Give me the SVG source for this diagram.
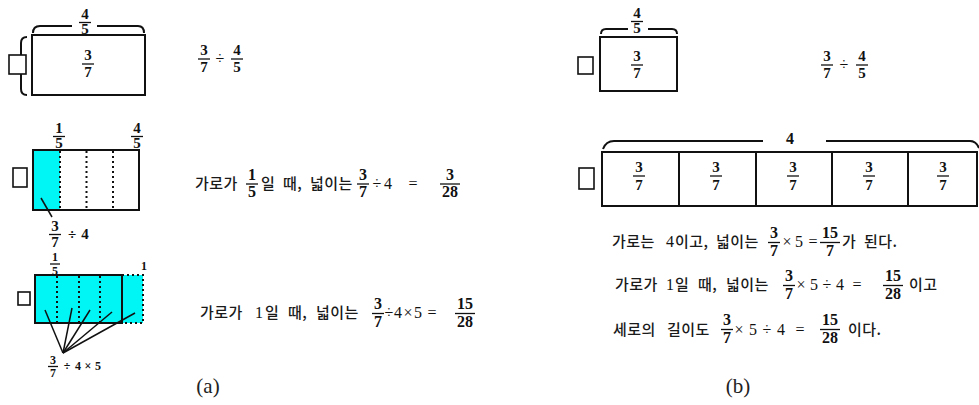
<svg xmlns="http://www.w3.org/2000/svg" width="979" height="405" viewBox="0 0 979 405">
<style>
.k{font-family:"Noto Sans CJK KR","Noto Sans",sans-serif;font-size:15px;font-weight:500;fill:#1a1a1a;letter-spacing:0.5px}
.f{font-family:"Liberation Serif",serif;font-weight:bold;font-size:15px;text-anchor:middle;fill:#111}
.fs{font-family:"Liberation Serif",serif;font-weight:bold;font-size:12px;text-anchor:middle;fill:#111}
.m{font-family:"Liberation Serif",serif;font-size:16px;text-anchor:middle;fill:#111}
.fm{font-family:"Liberation Serif",serif;font-weight:bold;font-size:16px;text-anchor:middle;fill:#111}
.bar{stroke:#111;stroke-width:1.3}
.box{fill:#fff;stroke:#111;stroke-width:2}
.cy{fill:#00f5f5;stroke:none}
.sq{fill:#fff;stroke:#111;stroke-width:1.6}
.br{fill:none;stroke:#111;stroke-width:2}
.dot{fill:none;stroke:#111;stroke-width:2;stroke-dasharray:2 3}
.ln{stroke:#111;stroke-width:1.5}
.lbl{font-family:"Liberation Serif",serif;font-size:21px;text-anchor:middle;fill:#222}
</style>
<rect width="979" height="405" fill="#fff"/>

<!-- Panel (a) row 1 -->
<g id="a1-diagram">
  <path class="br" d="M33,33 Q33,26 40,26 L72,26 M97,26 L138,26 Q144,26 144,33"/>
  <text class="f" x="85" y="19">4</text>
  <line class="bar" x1="79" y1="22.5" x2="91" y2="22.5"/>
  <text class="f" x="85" y="34">5</text>
  <path class="br" d="M27,37 Q21,37 21,43 L21,89 Q21,95 27,95"/>
  <rect class="box" x="32" y="35" width="113" height="60"/>
  <rect class="sq" x="9" y="55" width="17" height="19"/>
  <text class="f" x="88" y="60">3</text>
  <line class="bar" x1="82" y1="64" x2="94" y2="64"/>
  <text class="f" x="88" y="77">7</text>
</g>
<g id="a1-expr">
  <text class="f" x="204" y="55">3</text>
  <line class="bar" x1="198" y1="59" x2="210" y2="59"/>
  <text class="f" x="204" y="72">7</text>
  <text class="m" x="220" y="64">÷</text>
  <text class="f" x="237" y="55">4</text>
  <line class="bar" x1="231" y1="59" x2="243" y2="59"/>
  <text class="f" x="237" y="72">5</text>
</g>

<!-- Panel (a) row 2 -->
<g id="a2-diagram">
  <text class="f" x="59" y="133">1</text>
  <line class="bar" x1="53" y1="136.5" x2="65" y2="136.5"/>
  <text class="f" x="59" y="148">5</text>
  <text class="f" x="137" y="133">4</text>
  <line class="bar" x1="131" y1="136.5" x2="143" y2="136.5"/>
  <text class="f" x="137" y="148">5</text>
  <rect class="box" x="33" y="150" width="106" height="60"/>
  <rect class="cy" x="34" y="151" width="26" height="58"/>
  <line class="dot" x1="60" y1="151" x2="60" y2="209"/>
  <line class="dot" x1="86.5" y1="151" x2="86.5" y2="209"/>
  <line class="dot" x1="113" y1="151" x2="113" y2="209"/>
  <rect class="sq" x="13" y="168" width="14" height="19"/>
</g>
<g id="a2-label">
  <text class="f" x="55" y="231">3</text>
  <line class="bar" x1="49" y1="234.5" x2="61" y2="234.5"/>
  <text class="f" x="55" y="247">7</text>
  <text class="f" x="72" y="239">÷</text>
  <text class="f" x="85" y="239">4</text>
</g>
<g id="a2-text">
  <text class="k" x="195" y="189">가로가</text>
  <text class="fm" x="252" y="180">1</text>
  <line class="bar" x1="246" y1="184" x2="258" y2="184"/>
  <text class="fm" x="252" y="197">5</text>
  <text class="k" x="261" y="189">일</text>
  <text class="k" x="283" y="189">때,</text>
  <text class="k" x="310" y="189">넓이는</text>
  <text class="fm" x="363" y="180">3</text>
  <line class="bar" x1="357" y1="184" x2="369" y2="184"/>
  <text class="fm" x="363" y="197">7</text>
  <text class="m" x="377" y="189">÷</text>
  <text class="m" x="388" y="189">4</text>
  <text class="m" x="413" y="189">=</text>
  <text class="fm" x="450" y="180">3</text>
  <line class="bar" x1="440" y1="184" x2="460" y2="184"/>
  <text class="fm" x="450" y="197">28</text>
</g>

<!-- Panel (a) row 3 -->
<g id="a3-diagram">
  <text class="fs" x="55" y="261">1</text>
  <line class="bar" x1="50" y1="264" x2="60" y2="264"/>
  <text class="fs" x="55" y="275">5</text>
  <text class="fs" x="144" y="270">1</text>
  <rect class="cy" x="35" y="275" width="108" height="48"/>
  <path class="dot" d="M122,275 L143,275 L143,323 L122,323"/>
  <rect x="35" y="275" width="87" height="48" fill="none" stroke="#111" stroke-width="2"/>
  <line class="dot" x1="57" y1="276" x2="57" y2="322"/>
  <line class="dot" x1="79" y1="276" x2="79" y2="322"/>
  <line class="dot" x1="100" y1="276" x2="100" y2="322"/>
  <rect class="sq" x="18" y="292" width="12" height="13"/>
</g>
<g id="a3-label">
  <text class="fs" x="53" y="364">3</text>
  <line class="bar" x1="48" y1="366.5" x2="58" y2="366.5"/>
  <text class="fs" x="53" y="377">7</text>
  <text class="fs" x="67" y="370">÷</text>
  <text class="fs" x="78" y="370">4</text>
  <text class="fs" x="88" y="370">×</text>
  <text class="fs" x="98" y="370">5</text>
</g>
<g id="a3-text">
  <text class="k" x="200" y="318">가로가</text>
  <text class="m" x="259" y="318">1</text>
  <text class="k" x="265" y="318">일</text>
  <text class="k" x="288" y="318">때,</text>
  <text class="k" x="316" y="318">넓이는</text>
  <text class="fm" x="378" y="309">3</text>
  <line class="bar" x1="372" y1="313.5" x2="384" y2="313.5"/>
  <text class="fm" x="378" y="327">7</text>
  <text class="m" x="389" y="318">÷</text>
  <text class="m" x="398" y="318">4</text>
  <text class="m" x="408" y="318">×</text>
  <text class="m" x="418" y="318">5</text>
  <text class="m" x="432" y="318">=</text>
  <text class="fm" x="465" y="309">15</text>
  <line class="bar" x1="455" y1="313.5" x2="475" y2="313.5"/>
  <text class="fm" x="465" y="327">28</text>
</g>

<!-- Panel (b) row 1 -->
<g id="b1-diagram">
  <path class="br" d="M601,34 Q601,29 606,29 L628,29 M648,29 L672,29 Q677,29 677,34"/>
  <text class="f" x="637" y="18">4</text>
  <line class="bar" x1="631" y1="21.5" x2="643" y2="21.5"/>
  <text class="f" x="637" y="33">5</text>
  <rect class="box" x="600" y="37" width="77" height="54" stroke-width="2.5"/>
  <rect class="sq" x="578" y="57" width="15" height="17"/>
  <text class="f" x="637" y="61">3</text>
  <line class="bar" x1="631" y1="65" x2="643" y2="65"/>
  <text class="f" x="637" y="78">7</text>
</g>
<g id="b1-expr">
  <text class="f" x="827" y="61">3</text>
  <line class="bar" x1="821" y1="65" x2="833" y2="65"/>
  <text class="f" x="827" y="78">7</text>
  <text class="m" x="844" y="70">÷</text>
  <text class="f" x="862" y="61">4</text>
  <line class="bar" x1="856" y1="65" x2="868" y2="65"/>
  <text class="f" x="862" y="78">5</text>
</g>

<!-- Panel (b) row 2 -->
<g id="b2-diagram">
  <path class="br" d="M603,149 Q606,141 614,141 L763,141 M826,141 L970,141 Q976,141 979,148"/>
  <text class="fm" x="790" y="144">4</text>
  <rect class="box" x="602" y="152" width="375" height="54" stroke-width="2.5"/>
  <line class="br" x1="679" y1="152" x2="679" y2="206"/>
  <line class="br" x1="756" y1="152" x2="756" y2="206"/>
  <line class="br" x1="832" y1="152" x2="832" y2="206"/>
  <line class="br" x1="908" y1="152" x2="908" y2="206"/>
  <rect class="sq" x="579" y="168" width="15" height="21"/>
  <text class="f" x="639" y="172">3</text><line class="bar" x1="633" y1="176" x2="645" y2="176"/><text class="f" x="639" y="190">7</text>
  <text class="f" x="716" y="172">3</text><line class="bar" x1="710" y1="176" x2="722" y2="176"/><text class="f" x="716" y="190">7</text>
  <text class="f" x="793" y="172">3</text><line class="bar" x1="787" y1="176" x2="799" y2="176"/><text class="f" x="793" y="190">7</text>
  <text class="f" x="869" y="172">3</text><line class="bar" x1="863" y1="176" x2="875" y2="176"/><text class="f" x="869" y="190">7</text>
  <text class="f" x="943" y="172">3</text><line class="bar" x1="937" y1="176" x2="949" y2="176"/><text class="f" x="943" y="190">7</text>
</g>

<!-- Panel (b) text lines -->
<g id="b-line1">
  <text class="k" x="612" y="247">가로는</text>
  <text class="m" x="670" y="247">4</text>
  <text class="k" x="675" y="247">이고,</text>
  <text class="k" x="716" y="247">넓이는</text>
  <text class="fm" x="774" y="238">3</text>
  <line class="bar" x1="768" y1="242.5" x2="780" y2="242.5"/>
  <text class="fm" x="774" y="256">7</text>
  <text class="m" x="787" y="247">×</text>
  <text class="m" x="799" y="247">5</text>
  <text class="m" x="813" y="247">=</text>
  <text class="fm" x="830" y="238">15</text>
  <line class="bar" x1="820" y1="242.5" x2="840" y2="242.5"/>
  <text class="fm" x="830" y="256">7</text>
  <text class="k" x="842" y="247">가</text>
  <text class="k" x="864" y="247">된다.</text>
</g>
<g id="b-line2">
  <text class="k" x="615" y="290">가로가</text>
  <text class="m" x="670" y="290">1</text>
  <text class="k" x="675" y="290">일</text>
  <text class="k" x="698" y="290">때,</text>
  <text class="k" x="726" y="290">넓이는</text>
  <text class="fm" x="789" y="281">3</text>
  <line class="bar" x1="783" y1="285.5" x2="795" y2="285.5"/>
  <text class="fm" x="789" y="299">7</text>
  <text class="m" x="801" y="290">×</text>
  <text class="m" x="814" y="290">5</text>
  <text class="m" x="827" y="290">÷</text>
  <text class="m" x="840" y="290">4</text>
  <text class="m" x="857" y="290">=</text>
  <text class="fm" x="893" y="281">15</text>
  <line class="bar" x1="883" y1="285.5" x2="903" y2="285.5"/>
  <text class="fm" x="893" y="299">28</text>
  <text class="k" x="909" y="290">이고</text>
</g>
<g id="b-line3">
  <text class="k" x="613" y="335">세로의</text>
  <text class="k" x="667" y="335">길이도</text>
  <text class="fm" x="727" y="325">3</text>
  <line class="bar" x1="721" y1="329.5" x2="733" y2="329.5"/>
  <text class="fm" x="727" y="343">7</text>
  <text class="m" x="739" y="335">×</text>
  <text class="m" x="753" y="335">5</text>
  <text class="m" x="767" y="335">÷</text>
  <text class="m" x="781" y="335">4</text>
  <text class="m" x="800" y="335">=</text>
  <text class="fm" x="830" y="325">15</text>
  <line class="bar" x1="820" y1="329.5" x2="840" y2="329.5"/>
  <text class="fm" x="830" y="343">28</text>
  <text class="k" x="848" y="335">이다.</text>
</g>

<!-- connectors (pointer lines) -->
<g id="connectors">
  <line class="ln" x1="41" y1="198" x2="52" y2="217"/>
  <line class="ln" x1="63" y1="353" x2="45" y2="310"/>
  <line class="ln" x1="63" y1="353" x2="72" y2="308"/>
  <line class="ln" x1="63" y1="353" x2="90" y2="310"/>
  <line class="ln" x1="63" y1="353" x2="112" y2="312"/>
  <line class="ln" x1="63" y1="353" x2="135" y2="313"/>
</g>

<g id="captions">
  <text class="lbl" x="208" y="393">(a)</text>
  <text class="lbl" x="738" y="393">(b)</text>
</g>
</svg>
